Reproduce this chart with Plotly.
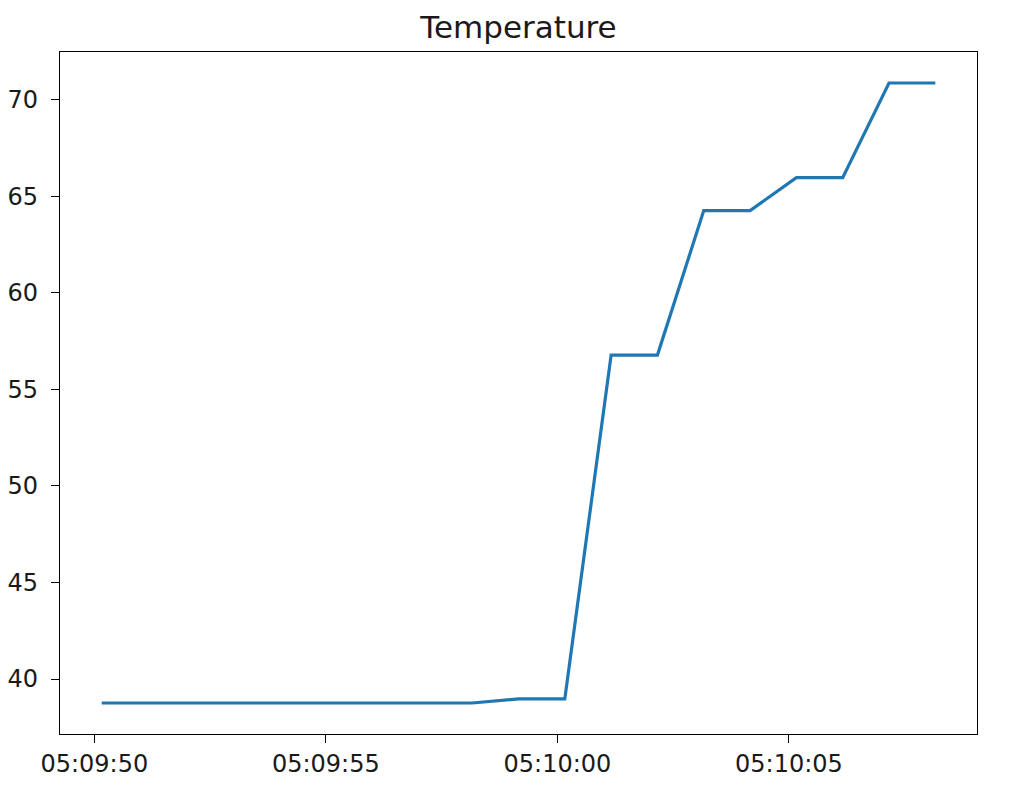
import plotly.graph_objects as go
import pandas as pd

# Sample timestamps (one per second) and temperature readings
times = [
    "2024-01-01 05:09:50.16", "2024-01-01 05:09:51.16", "2024-01-01 05:09:52.16",
    "2024-01-01 05:09:53.16", "2024-01-01 05:09:54.16", "2024-01-01 05:09:55.16",
    "2024-01-01 05:09:56.16", "2024-01-01 05:09:57.16", "2024-01-01 05:09:58.16",
    "2024-01-01 05:09:59.16", "2024-01-01 05:10:00.16", "2024-01-01 05:10:01.16",
    "2024-01-01 05:10:02.16", "2024-01-01 05:10:03.16", "2024-01-01 05:10:04.16",
    "2024-01-01 05:10:05.16", "2024-01-01 05:10:06.16", "2024-01-01 05:10:07.16",
    "2024-01-01 05:10:08.16",
]
temperature = [
    38.76, 38.76, 38.76, 38.76, 38.76, 38.76, 38.76, 38.76, 38.76,
    38.97, 38.97, 56.78, 56.78, 64.26, 64.26, 65.97, 65.97, 70.87, 70.87,
]
title_text = "Temperature"

t = pd.to_datetime(times)
span = t.max() - t.min()
x_range = [t.min() - 0.05 * span, t.max() + 0.05 * span]
ymin, ymax = min(temperature), max(temperature)
ypad = 0.05 * (ymax - ymin)
y_range = [ymin - ypad, ymax + ypad]

fig = go.Figure()
fig.add_trace(go.Scatter(
    x=t, y=temperature, mode="lines",
    line=dict(color="#1f77b4", width=3.2),
))

font = dict(family="DejaVu Sans", size=24, color="#1a1a1a")

fig.update_layout(
    width=1024, height=796,
    margin=dict(l=52, r=55, t=44, b=70, autoexpand=False),
    paper_bgcolor="white", plot_bgcolor="white",
    showlegend=False,
    font=font,
    title=dict(text=title_text, x=0.5, xref="paper", xanchor="center",
               y=1 - 19 / 796, yref="container", yanchor="middle",
               font=dict(family="DejaVu Sans", size=31, color="#1a1a1a")),
)
fig.update_xaxes(
    range=[x_range[0], x_range[1]], automargin=False,
    tickformat="%H:%M:%S", dtick=5000, tick0="2024-01-01 05:09:50",
    showgrid=False, zeroline=False,
    showline=True, linecolor="black", linewidth=1.3, mirror=True,
    ticks="outside", ticklen=8, tickwidth=1.3, tickcolor="black",
    tickfont=font,
)
fig.update_yaxes(
    range=y_range, dtick=5, tick0=0, automargin=False,
    showgrid=False, zeroline=False,
    showline=True, linecolor="black", linewidth=1.3, mirror=True,
    ticks="outside", ticklen=8, tickwidth=1.3, tickcolor="black",
    tickfont=font, ticklabelstandoff=8,
)

fig.write_html("out.html")
